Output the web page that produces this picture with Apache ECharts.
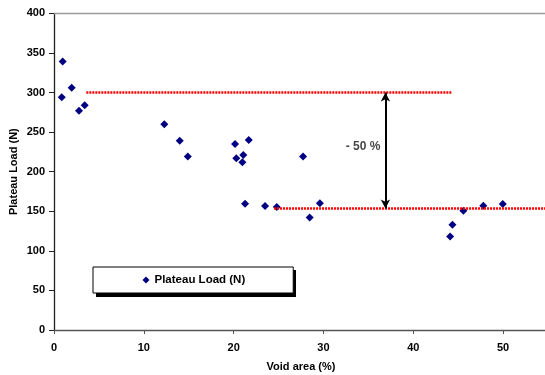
<!DOCTYPE html>
<html>
<head>
<meta charset="utf-8">
<script src="https://cdn.jsdelivr.net/npm/echarts@6/dist/echarts.min.js"></script>
<style>
  html, body { margin: 0; padding: 0; background: #fff; }
  #chart { width: 545px; height: 375px; }
</style>
</head>
<body>
<div id="chart"></div>
<script>
// void area (%) and plateau load (N) of each sample
const voidArea = [0.97, 0.86, 1.97, 2.78, 3.42, 12.28, 14.0, 14.9, 20.16, 21.68, 20.3, 21.08,
  20.97, 21.27, 23.5, 24.8, 27.73, 28.47, 29.6, 44.1, 44.36, 45.58, 47.8, 49.96]
const plateauLoad = [339, 294, 306, 277, 284, 260, 239, 219, 235, 240, 217, 221,
  212, 159.5, 156.5, 155.5, 219, 142, 160, 118, 133, 150.5, 157, 159]

// red dotted reference levels
const upperLevel = 300
const upperRange = [3.6, 44.3]
const lowerLevel = 153.5
const lowerRange = [24.5, 55]

// double arrow between the two levels
const arrowX = 36.9
const dropLabel = '- 50 %'
const dropLabelPos = [34.4, 232]

const xTicks = { min: 0, max: 55, interval: 10 }
const yTicks = { min: 0, max: 400, interval: 50 }

const seriesName = 'Plateau Load (N)'
const font = 'Liberation Sans, Arial, sans-serif'

const chart = echarts.init(document.getElementById('chart'), null, { renderer: 'canvas' })

const dotted = {
  color: '#ff0000',
  width: 2.6,
  type: [2, 1],
}

const option = {
  animation: false,
  grid: {
    left: 54,
    top: 13.3,
    width: 494,
    height: 316.7,
    containLabel: false,
    outerBoundsMode: 'none',
  },
  // shadow behind the legend box
  graphic: [
    {
      type: 'rect',
      left: 96,
      top: 270,
      z: 1,
      shape: { width: 200, height: 27 },
      style: { fill: '#000' },
    },
  ],
  legend: {
    data: [seriesName],
    left: 93,
    top: 267,
    z: 5,
    orient: 'horizontal',
    icon: 'diamond',
    itemWidth: 7,
    itemHeight: 7,
    padding: [7, 48, 7, 49.5],
    backgroundColor: '#fff',
    borderColor: '#000',
    borderWidth: 1,
    borderRadius: 0,
    itemStyle: { opacity: 1 },
    textStyle: {
      fontFamily: font,
      fontWeight: 'bold',
      fontSize: 11.5,
      color: '#000',
    },
  },
  xAxis: [
    {
      type: 'value',
      min: xTicks.min,
      max: xTicks.max,
      interval: xTicks.interval,
      name: 'Void area (%)',
      nameLocation: 'middle',
      nameGap: 31,
      nameMoveOverlap: false,
      nameTextStyle: { fontFamily: font, fontWeight: 'bold', fontSize: 11, color: '#000' },
      axisLine: { show: true, onZero: false, lineStyle: { color: '#555', width: 1.3 } },
      axisTick: { show: true, length: 4, lineStyle: { color: '#555' } },
      axisLabel: {
        margin: 12,
        showMaxLabel: false,
        fontFamily: font,
        fontWeight: 'bold',
        fontSize: 11,
        color: '#000',
      },
      splitLine: { show: false },
    },
    {
      // plain top border of the plot area
      type: 'value',
      position: 'top',
      min: xTicks.min,
      max: xTicks.max,
      axisLine: { show: true, onZero: false, lineStyle: { color: '#9a9a9a', width: 1.3 } },
      axisTick: { show: false },
      axisLabel: { show: false },
      splitLine: { show: false },
    },
  ],
  yAxis: {
    type: 'value',
    min: yTicks.min,
    max: yTicks.max,
    interval: yTicks.interval,
    name: seriesName,
    nameLocation: 'middle',
    nameGap: 35,
    nameMoveOverlap: false,
    nameTextStyle: { fontFamily: font, fontWeight: 'bold', fontSize: 11, color: '#000' },
    axisLine: { show: true, onZero: false, lineStyle: { color: '#222', width: 1.3 } },
    axisTick: { show: true, length: 5, lineStyle: { color: '#222' } },
    axisLabel: {
      margin: 9,
      fontFamily: font,
      fontWeight: 'bold',
      fontSize: 11,
      color: '#000',
    },
    splitLine: { show: false },
  },
  series: [
    {
      name: seriesName,
      type: 'scatter',
      z: 2,
      symbol: 'diamond',
      symbolSize: [8, 8],
      itemStyle: { color: '#000080', opacity: 1 },
      data: voidArea.map((x, i) => [x, plateauLoad[i]]),
    },
    {
      name: 'upper',
      type: 'line',
      z: 3,
      symbol: 'none',
      silent: true,
      lineStyle: dotted,
      data: upperRange.map((x) => [x, upperLevel]),
    },
    {
      name: 'lower',
      type: 'line',
      z: 3,
      symbol: 'none',
      silent: true,
      lineStyle: dotted,
      data: lowerRange.map((x) => [x, lowerLevel]),
    },
    {
      name: 'drop',
      type: 'scatter',
      z: 4,
      symbolSize: 0,
      silent: true,
      label: {
        show: true,
        position: 'inside',
        formatter: dropLabel,
        fontFamily: font,
        fontWeight: 'bold',
        fontSize: 12,
        color: '#111',
      },
      data: [dropLabelPos],
      markLine: {
        silent: true,
        symbol: ['arrow', 'arrow'],
        symbolSize: [7, 9],
        label: { show: false },
        lineStyle: { color: '#000', width: 2, type: 'solid' },
        data: [[{ coord: [arrowX, upperLevel] }, { coord: [arrowX, lowerLevel] }]],
      },
    },
  ],
}

chart.setOption(option)
</script>
</body>
</html>
